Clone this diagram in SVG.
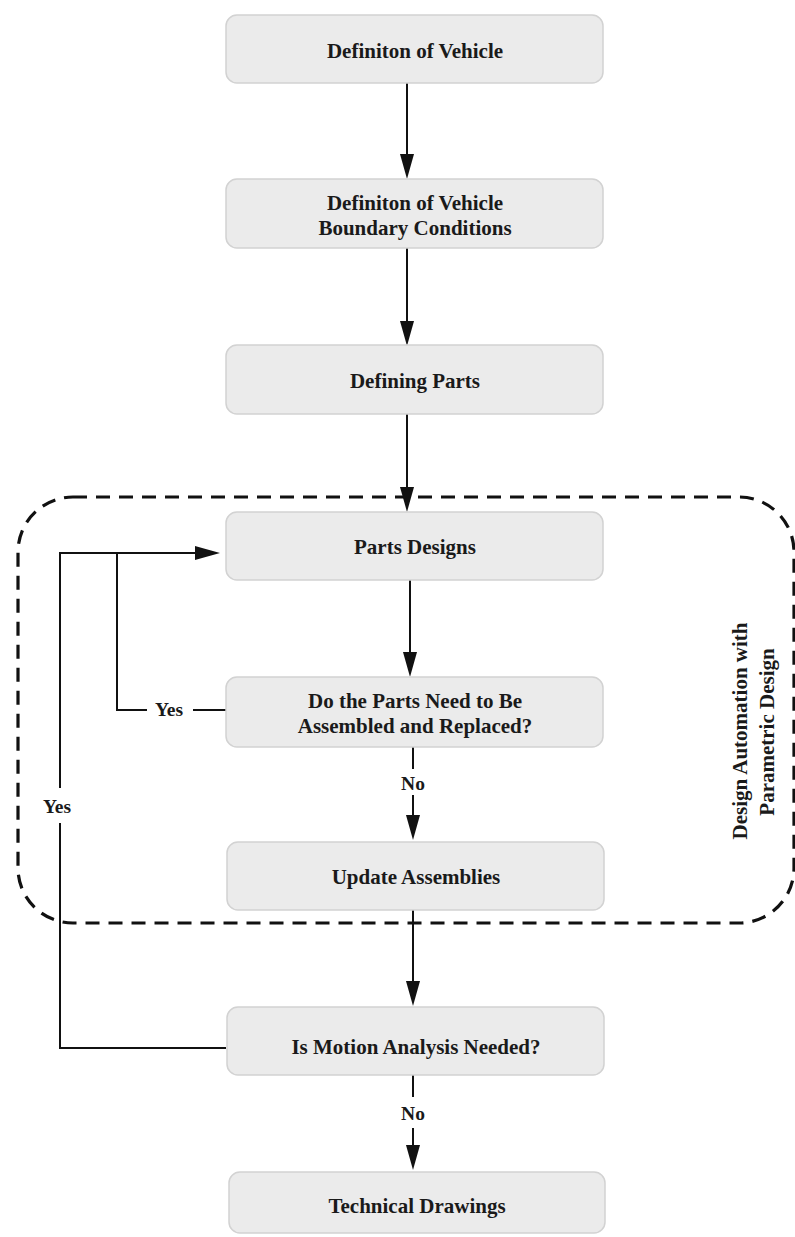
<svg xmlns="http://www.w3.org/2000/svg" width="795" height="1237" viewBox="0 0 795 1237">
<style>
.node{fill:#ebebeb;stroke:#d2d2d2;stroke-width:1.5}
.t{font-family:"Liberation Serif","Times New Roman",serif;font-weight:bold;font-size:21px;fill:#1a1a1a;text-anchor:middle}
.lbl{font-family:"Liberation Serif","Times New Roman",serif;font-weight:bold;font-size:19.5px;fill:#1a1a1a;text-anchor:middle}
.c{fill:none;stroke:#111;stroke-width:2}
.dash{fill:none;stroke:#111;stroke-width:3.2;stroke-dasharray:14 9}
</style>
<defs>
<marker id="ah" markerUnits="userSpaceOnUse" markerWidth="26" markerHeight="14" refX="17" refY="7" orient="auto">
<path d="M0,0 L25,7 L0,14 z" fill="#111"/>
</marker>
</defs>
<rect width="795" height="1237" fill="#fff"/>

<g id="group-boundary">
<rect class="dash" x="18" y="497" width="776" height="426" rx="55" ry="55"/>
<text class="t" transform="translate(747,731) rotate(-90)" x="0" y="0">Design Automation with</text>
<text class="t" transform="translate(774,732) rotate(-90)" x="0" y="0">Parametric Design</text>
</g>

<g id="connectors">
<line class="c" x1="407" y1="83" x2="407" y2="171" marker-end="url(#ah)"/>
<line class="c" x1="407" y1="248" x2="407" y2="338" marker-end="url(#ah)"/>
<line class="c" x1="407" y1="414" x2="407" y2="504" marker-end="url(#ah)"/>
<line class="c" x1="410" y1="580" x2="410" y2="669" marker-end="url(#ah)"/>
<line class="c" x1="413" y1="747" x2="413" y2="769"/>
<text class="lbl" x="413" y="790">No</text>
<line class="c" x1="413" y1="795" x2="413" y2="832" marker-end="url(#ah)"/>
<line class="c" x1="413" y1="910" x2="413" y2="998" marker-end="url(#ah)"/>
<line class="c" x1="413" y1="1075" x2="413" y2="1097"/>
<text class="lbl" x="413" y="1120">No</text>
<line class="c" x1="413" y1="1128" x2="413" y2="1162" marker-end="url(#ah)"/>
<polyline class="c" points="226,710 193,710"/>
<text class="lbl" x="169" y="716">Yes</text>
<polyline class="c" points="147,710 117,710 117,553"/>
<polyline class="c" points="226,1048 60,1048 60,823"/>
<text class="lbl" x="57" y="813">Yes</text>
<polyline class="c" points="60,788 60,553 212,553" marker-end="url(#ah)"/>
</g>

<g id="node-vehicle">
<rect class="node" x="226" y="15" width="377" height="68" rx="11"/>
<text class="t" x="415" y="58">Definiton of Vehicle</text>
</g>
<g id="node-boundary">
<rect class="node" x="226" y="179" width="377" height="69" rx="11"/>
<text class="t" x="415" y="210">Definiton of Vehicle</text>
<text class="t" x="415" y="235">Boundary Conditions</text>
</g>
<g id="node-defining-parts">
<rect class="node" x="226" y="345" width="377" height="69" rx="11"/>
<text class="t" x="415" y="388">Defining Parts</text>
</g>
<g id="node-parts-designs">
<rect class="node" x="226" y="512" width="377" height="68" rx="11"/>
<text class="t" x="415" y="554">Parts Designs</text>
</g>
<g id="node-assembled">
<rect class="node" x="226" y="677" width="377" height="70" rx="11"/>
<text class="t" x="415" y="708">Do the Parts Need to Be</text>
<text class="t" x="415" y="733">Assembled and Replaced?</text>
</g>
<g id="node-update">
<rect class="node" x="227" y="842" width="377" height="68" rx="11"/>
<text class="t" x="416" y="884">Update Assemblies</text>
</g>
<g id="node-motion">
<rect class="node" x="227" y="1007" width="377" height="68" rx="11"/>
<text class="t" x="416" y="1054">Is Motion Analysis Needed?</text>
</g>
<g id="node-technical">
<rect class="node" x="229" y="1172" width="376" height="61" rx="11"/>
<text class="t" x="417" y="1213">Technical Drawings</text>
</g>
</svg>
